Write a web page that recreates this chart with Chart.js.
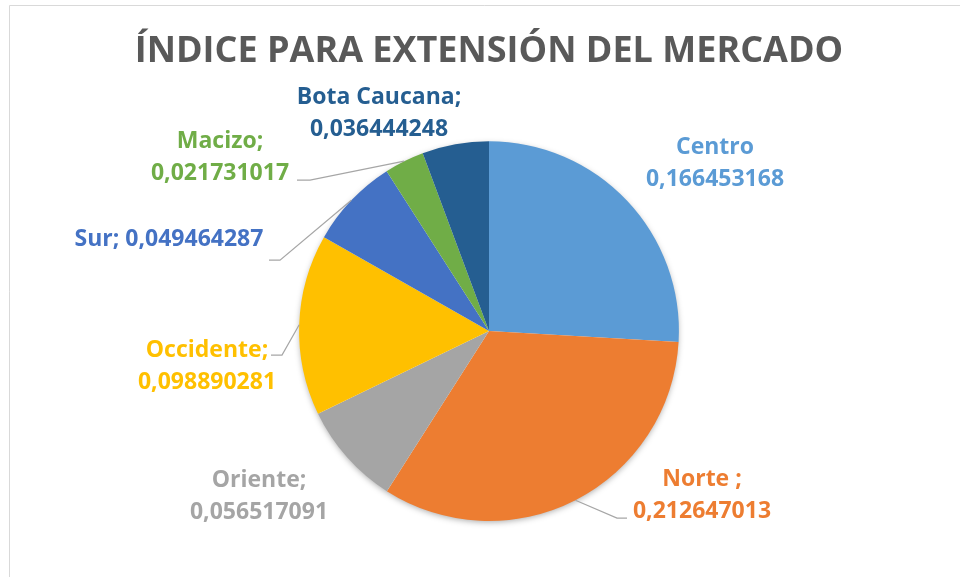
<!DOCTYPE html>
<html>
<head>
<meta charset="utf-8">
<script src="https://cdn.jsdelivr.net/npm/chart.js@4/dist/chart.umd.min.js"></script>
<style>
  html, body { margin: 0; padding: 0; background: #fff; }
  #wrap { position: relative; width: 960px; height: 577px; }
</style>
</head>
<body>
<div id="wrap"><canvas id="pieChart"></canvas></div>
<script>
// Data
const regions = ['Centro', 'Norte ', 'Oriente', 'Occidente', 'Sur', 'Macizo', 'Bota Caucana'];
const indexValues = [0.166453168, 0.212647013, 0.056517091, 0.098890281, 0.049464287, 0.021731017, 0.036444248];
const sliceColors = ['#5B9BD5', '#ED7D31', '#A5A5A5', '#FFC000', '#4472C4', '#70AD47', '#255E91'];
const titleText = 'ÍNDICE PARA EXTENSIÓN DEL MERCADO';

// Label placement (offsets from pie centre) and leader lines
const labelSep = ['\n', ';\n', ';\n', ';\n', '; ', ';\n', ';\n'];
const labelPos = [[226, -168], [213, 164], [-230, 165], [-282, 35], [-320, -92], [-269, -174], [-110, -218]];
const leaders = [null, [128, 187, 138], null, [-207, 24, -218], [-209, -71, -220], [-179, -151, -192], null];

const FONT = '"Open Sans", "DejaVu Sans", sans-serif';

const framePlugin = {
  id: 'frame',
  beforeDraw(chart) {
    const ctx = chart.ctx;
    ctx.save();
    ctx.fillStyle = '#fff';
    ctx.fillRect(0, 0, chart.width, chart.height);
    ctx.strokeStyle = '#D9D9D9';
    ctx.lineWidth = 1;
    ctx.beginPath();
    ctx.moveTo(9.5, chart.height);
    ctx.lineTo(9.5, 5.5);
    ctx.lineTo(chart.width, 5.5);
    ctx.stroke();
    ctx.restore();
  },
  beforeDatasetsDraw(chart) {
    // soft shadow under the whole pie
    const arc = chart.getDatasetMeta(0).data[0];
    if (!arc) return;
    const ctx = chart.ctx;
    ctx.save();
    ctx.shadowColor = 'rgba(0,0,0,0.35)';
    ctx.shadowBlur = 6;
    ctx.shadowOffsetY = 2;
    ctx.fillStyle = '#fff';
    ctx.beginPath();
    ctx.arc(arc.x, arc.y, arc.outerRadius - 1, 0, Math.PI * 2);
    ctx.fill();
    ctx.restore();
  }
};

const labelPlugin = {
  id: 'sliceLabels',
  afterDatasetsDraw(chart) {
    const ctx = chart.ctx;
    const meta = chart.getDatasetMeta(0);
    ctx.save();
    ctx.font = 'bold 23px ' + FONT;
    ctx.textAlign = 'center';
    ctx.textBaseline = 'middle';
    meta.data.forEach((arc, i) => {
      const p = arc.getProps(['x', 'y', 'startAngle', 'endAngle', 'outerRadius'], true);
      const mid = (p.startAngle + p.endAngle) / 2;
      const ld = leaders[i];
      if (ld) {
        ctx.strokeStyle = '#A6A6A6';
        ctx.lineWidth = 1.2;
        ctx.beginPath();
        ctx.moveTo(p.x + Math.cos(mid) * p.outerRadius, p.y + Math.sin(mid) * p.outerRadius);
        ctx.lineTo(p.x + ld[0], p.y + ld[1]);
        ctx.lineTo(p.x + ld[2], p.y + ld[1]);
        ctx.stroke();
      }
      const text = regions[i] + labelSep[i] + String(indexValues[i]).replace('.', ',');
      const lines = text.split('\n');
      const cx = p.x + labelPos[i][0];
      const cy = p.y + labelPos[i][1];
      const lh = 32;
      ctx.fillStyle = sliceColors[i];
      lines.forEach((ln, k) => {
        ctx.fillText(ln, cx, cy + (k - (lines.length - 1) / 2) * lh);
      });
    });
    ctx.restore();
  }
};

new Chart(document.getElementById('pieChart'), {
  type: 'pie',
  data: {
    labels: regions,
    datasets: [{
      data: indexValues,
      backgroundColor: sliceColors,
      borderWidth: 0
    }]
  },
  options: {
    responsive: true, maintainAspectRatio: false,
    animation: false,
    events: [],
    layout: { padding: { top: 0, left: 100, right: 82, bottom: 56 } },
    plugins: {
      legend: { display: false },
      tooltip: { enabled: false },
      title: {
        display: true,
        text: titleText,
        color: '#595959',
        font: { family: FONT, size: 36, weight: 'bold', lineHeight: 1.2 },
        padding: { top: 30, bottom: 68 }
      }
    }
  },
  plugins: [framePlugin, labelPlugin]
});
</script>
</body>
</html>
